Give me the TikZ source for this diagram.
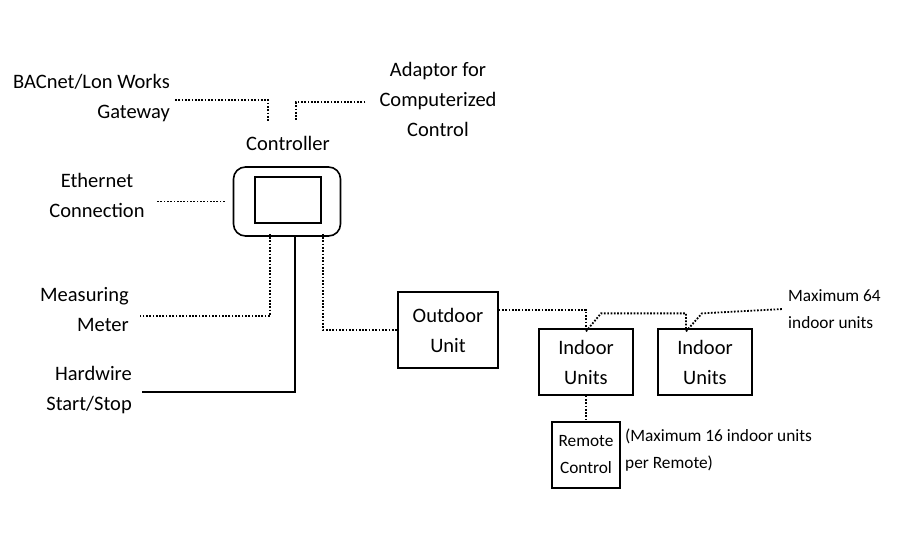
\documentclass[tikz,border=0pt]{standalone}
\usepackage{fontspec}
\setmainfont{Carlito}
\usepackage{tikz}
\usetikzlibrary{calc}

\begin{document}
\begin{tikzpicture}[x=1pt,y=-1pt,
  lbl/.style={font=\fontsize{20.5}{30}\selectfont,inner sep=0pt},
  small/.style={font=\fontsize{17.3}{27}\selectfont,inner sep=0pt},
  unit/.style={draw,line width=1.3pt,lbl,align=center},
  dotline/.style={line width=1.8pt,dash pattern=on 1.7pt off 1.6pt},
  hardline/.style={line width=2pt}]
  \useasboundingbox (0,0) rectangle (900,550);
  \node[lbl,align=right,anchor=east] (bacnet) at (170,98) {BACnet/Lon Works\\Gateway};
  \node[lbl,align=center] (adaptor) at (438,99) {Adaptor for\\Computerized\\Control};
  \node[lbl] (ctrllbl) at (288,143) {Controller};
  \node[lbl,align=center] (ethernet) at (97,195) {Ethernet\\Connection};
  \node[lbl,align=right,anchor=east] (measuring) at (129,310) {Measuring\\Meter};
  \node[lbl,align=right,anchor=east] (hardwire) at (132,390) {Hardwire\\Start/Stop};
  \node[small,align=left,anchor=west] (max64) at (788,309) {Maximum 64\\indoor units};
  \node[small,align=left,anchor=west] (max16) at (625,450) {(Maximum 16 indoor units\\per Remote)};

  \node[draw,line width=1.6pt,rounded corners=12pt,minimum width=107,minimum height=69] (ctrl) at (287,201.5) {};
  \node[draw,line width=1.3pt,minimum width=66,minimum height=46] (screen) at (288,200) {};
  \node[unit,minimum width=100,minimum height=76] (outdoor) at (448,330) {Outdoor\\Unit};
  \node[unit,minimum width=94,minimum height=66] (indoorA) at (586,362) {Indoor\\Units};
  \node[unit,minimum width=94,minimum height=66] (indoorB) at (705,362) {Indoor\\Units};
  \node[unit,small,minimum width=68,minimum height=66] (remote) at (586,455) {Remote\\Control};

  \draw[dotline] ([xshift=5,yshift=-2]bacnet.east) -| (268,121);
  \draw[dotline] ([xshift=-14,yshift=-3]adaptor.west) -| (296,121);
  \draw[dotline] ([xshift=-8]ctrl.west) -- ++(-69,0);
  \draw[dotline] ([xshift=-17,yshift=3]ctrl.south) |- ([xshift=11,yshift=-6]measuring.east);
  \draw[hardline] ([xshift=8]ctrl.south) |- ([xshift=10,yshift=-2]hardwire.east);
  \draw[dotline] ([xshift=36,yshift=3]ctrl.south) |- (outdoor.west);
  \draw[dotline] (outdoor.east |- 0,310) -| (indoorA.north);
  \draw[dotline] ([yshift=-3]indoorA.north) -- ++(15,-18) -| ([xshift=-19]indoorB.north);
  \draw[dotline] ([xshift=-19,yshift=-3]indoorB.north) -- ++(16,-18) -- ([xshift=-5]max64.west);
  \draw[dotline] (indoorA.south) -- (remote.north);
\end{tikzpicture}
\end{document}
